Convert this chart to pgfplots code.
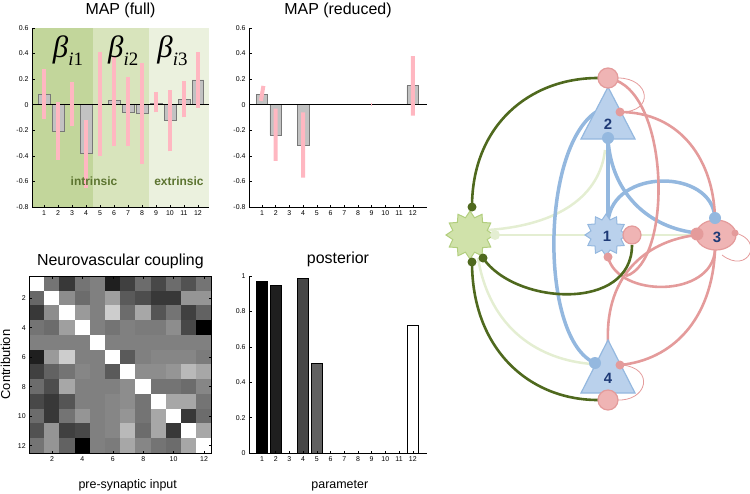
\documentclass[border=0pt]{standalone}
\usepackage{fontspec}
\setmainfont{Liberation Sans}
\newfontfamily\tms{Liberation Serif}
\usepackage{pgfplots}
\pgfplotsset{compat=1.18}
\usetikzlibrary{shapes.geometric}
\definecolor{bgA}{RGB}{194,214,155}
\definecolor{bgB}{RGB}{216,228,188}
\definecolor{bgC}{RGB}{235,241,222}
\definecolor{errpink}{RGB}{255,183,193}
\definecolor{bargray}{RGB}{194,194,194}
\definecolor{baredge}{RGB}{120,120,120}
\definecolor{txtgreen}{RGB}{92,116,48}
\definecolor{dgreen}{RGB}{79,105,30}
\definecolor{lgreen}{RGB}{228,238,210}
\definecolor{sgfill}{RGB}{208,226,170}
\definecolor{sgdraw}{RGB}{178,206,126}
\definecolor{bluel}{RGB}{148,184,223}
\definecolor{bluefill}{RGB}{186,209,236}
\definecolor{pinkl}{RGB}{228,155,155}
\definecolor{pinkfill}{RGB}{239,180,180}
\definecolor{numblue}{RGB}{30,58,118}
\newcommand{\betalab}[1]{{\tms\itshape\fontsize{31}{33}\selectfont β\raisebox{-8bp}{\fontsize{19}{21}\selectfont i\upshape #1}}}
\pgfplotsset{
  every axis title shift=0pt,
  base/.style={scale only axis,
    /pgf/number format/assume math mode=true,
    tick label style={font=\fontsize{7}{8}\selectfont},
    axis line style={black, line width=0.6bp, -},
    tick style={black, line width=0.5bp},
    major tick length=2.5bp, tick align=inside,
    title style={font=\fontsize{16}{18}\selectfont, anchor=base},
    label style={font=\fontsize{12.5}{14}\selectfont}},
}
\begin{document}
\begin{tikzpicture}
\useasboundingbox (0,0) rectangle (750bp,-494bp);

% ---------- MAP (full)
\begin{axis}[base, at={(32bp,-207bp)}, anchor=south west, width=177bp, height=179bp,
  xmin=0.14, xmax=12.79, ymin=-0.8, ymax=0.6,
  xtick={1,...,12}, ytick={-0.8,-0.6,-0.4,-0.2,0,0.2,0.4,0.6},
  yticklabel style={/pgf/number format/fixed, /pgf/number format/precision=1},
  axis x line*=bottom, axis y line*=left, axis on top,
  title={MAP (full)}, title style={at={(0.5,1.073)}}]
\addplot[fill=bgA, draw=none, forget plot] coordinates {(0.14,-0.8) (4.5,-0.8) (4.5,0.6) (0.14,0.6)} -- cycle;
\addplot[fill=bgB, draw=none, forget plot] coordinates {(4.5,-0.8) (8.5,-0.8) (8.5,0.6) (4.5,0.6)} -- cycle;
\addplot[fill=bgC, draw=none, forget plot] coordinates {(8.5,-0.8) (12.79,-0.8) (12.79,0.6) (8.5,0.6)} -- cycle;
\addplot[ybar, bar shift=0pt, bar width=0.85, fill=bargray, draw=baredge, line width=0.8bp]
  coordinates {(1,0.081) (2,-0.212) (4,-0.38) (6,0.034) (7,-0.058) (8,-0.068) (9,0.013) (10,-0.126) (11,0.042) (12,0.194)};
\addplot[black, line width=0.8bp] coordinates {(0.14,0) (12.79,0)};
\addplot[errpink, line width=4bp, unbounded coords=jump] table[row sep=\\] {
x y\\ 1 -0.11\\ 1 0.28\\ nan nan\\
2 -0.43\\ 2 0.024\\ nan nan\\
3 -0.17\\ 3 0.18\\ nan nan\\
4 -0.65\\ 4 -0.12\\ nan nan\\
5 -0.40\\ 5 0.416\\ nan nan\\
6 -0.32\\ 6 0.377\\ nan nan\\
7 -0.32\\ 7 0.22\\ nan nan\\
8 -0.46\\ 8 0.325\\ nan nan\\
9 -0.06\\ 9 0.097\\ nan nan\\
10 -0.364\\ 10 0.115\\ nan nan\\
11 -0.10\\ 11 0.186\\ nan nan\\
12 -0.024\\ 12 0.41\\
};
\node[anchor=base] at (axis cs:2.71,0.373) {\betalab{1}};
\node[anchor=base] at (axis cs:6.66,0.373) {\betalab{2}};
\node[anchor=base] at (axis cs:10.18,0.373) {\betalab{3}};
\node[font=\bfseries\fontsize{12}{13}\selectfont, text=txtgreen] at (axis cs:4.57,-0.6) {intrinsic};
\node[font=\bfseries\fontsize{12}{13}\selectfont, text=txtgreen] at (axis cs:10.64,-0.6) {extrinsic};
\end{axis}

% ---------- MAP (reduced)
\begin{axis}[base, at={(249bp,-207bp)}, anchor=south west, width=178bp, height=179bp,
  xmin=0.05, xmax=13.04, ymin=-0.8, ymax=0.6,
  xtick={1,...,12}, ytick={-0.8,-0.6,-0.4,-0.2,0,0.2,0.4,0.6},
  yticklabel style={/pgf/number format/fixed, /pgf/number format/precision=1},
  axis x line*=bottom, axis y line*=left, axis on top,
  title={MAP (reduced)}, title style={at={(0.5,1.073)}}]
\addplot[ybar, bar shift=0pt, bar width=0.85, fill=bargray, draw=baredge, line width=0.8bp]
  coordinates {(1,0.081) (2,-0.238) (4,-0.317) (12,0.148)};
\addplot[black, line width=0.8bp] coordinates {(0.05,0) (13.04,0)};
\addplot[errpink, line width=4bp, unbounded coords=jump] table[row sep=\\] {
x y\\ 0.92 0.03\\ 1.1 0.147\\ nan nan\\
2 -0.44\\ 2 -0.03\\ nan nan\\
4 -0.57\\ 4 -0.06\\ nan nan\\
12 -0.086\\ 12 0.38\\
};
\addplot[errpink, line width=1.5bp] coordinates {(9,-0.012) (9,0.012)};
\end{axis}

% ---------- Neurovascular coupling
\begin{axis}[base, at={(29.2bp,-453bp)}, anchor=south west, width=182.4bp, height=177bp,
  xmin=0.5, xmax=12.5, ymin=0.5, ymax=12.5, y dir=reverse,
  xtick={2,4,...,12}, ytick={2,4,...,12}, tick align=inside,
  colormap/blackwhite, point meta min=0, point meta max=1,
  title={Neurovascular coupling}, title style={at={(0.5,1.062)}},
  xlabel={pre-synaptic input}, xlabel style={at={(0.54,-0.198)}, anchor=base},
  ylabel={Contribution}, ylabel style={at={(-0.13,0.5)}, anchor=center, font=\fontsize{13}{14}\selectfont},
  axis on top]
\addplot[matrix plot*, mesh/cols=12, point meta=explicit] coordinates {
(1,1)[1] (2,1)[.45] (3,1)[.22] (4,1)[.45] (5,1)[.5] (6,1)[.12] (7,1)[.25] (8,1)[.42] (9,1)[.28] (10,1)[.42] (11,1)[.32] (12,1)[.45]
(1,2)[.4] (2,2)[1] (3,2)[.55] (4,2)[.42] (5,2)[.5] (6,2)[.62] (7,2)[.35] (8,2)[.3] (9,2)[.22] (10,2)[.22] (11,2)[.58] (12,2)[.58]
(1,3)[.22] (2,3)[.55] (3,3)[1] (4,3)[.6] (5,3)[.5] (6,3)[.8] (7,3)[.42] (8,3)[.65] (9,3)[.33] (10,3)[.45] (11,3)[.25] (12,3)[.38]
(1,4)[.45] (2,4)[.42] (3,4)[.62] (4,4)[1] (5,4)[.5] (6,4)[.45] (7,4)[.5] (8,4)[.48] (9,4)[.48] (10,4)[.55] (11,4)[.28] (12,4)[0]
(1,5)[.5] (2,5)[.5] (3,5)[.5] (4,5)[.5] (5,5)[1] (6,5)[.5] (7,5)[.5] (8,5)[.5] (9,5)[.5] (10,5)[.5] (11,5)[.5] (12,5)[.5]
(1,6)[.12] (2,6)[.6] (3,6)[.8] (4,6)[.5] (5,6)[.5] (6,6)[1] (7,6)[.35] (8,6)[.5] (9,6)[.52] (10,6)[.52] (11,6)[.52] (12,6)[.48]
(1,7)[.25] (2,7)[.38] (3,7)[.45] (4,7)[.52] (5,7)[.5] (6,7)[.35] (7,7)[1] (8,7)[.55] (9,7)[.55] (10,7)[.58] (11,7)[.72] (12,7)[.65]
(1,8)[.42] (2,8)[.3] (3,8)[.65] (4,8)[.5] (5,8)[.5] (6,8)[.5] (7,8)[.55] (8,8)[1] (9,8)[.45] (10,8)[.45] (11,8)[.42] (12,8)[.52]
(1,9)[.28] (2,9)[.22] (3,9)[.33] (4,9)[.5] (5,9)[.5] (6,9)[.52] (7,9)[.55] (8,9)[.45] (9,9)[1] (10,9)[.65] (11,9)[.65] (12,9)[.45]
(1,10)[.42] (2,10)[.22] (3,10)[.45] (4,10)[.58] (5,10)[.5] (6,10)[.52] (7,10)[.58] (8,10)[.45] (9,10)[.65] (10,10)[1] (11,10)[.22] (12,10)[.42]
(1,11)[.32] (2,11)[.58] (3,11)[.25] (4,11)[.28] (5,11)[.5] (6,11)[.52] (7,11)[.72] (8,11)[.42] (9,11)[.65] (10,11)[.22] (11,11)[1] (12,11)[.65]
(1,12)[.45] (2,12)[.58] (3,12)[.38] (4,12)[0] (5,12)[.5] (6,12)[.48] (7,12)[.65] (8,12)[.52] (9,12)[.45] (10,12)[.42] (11,12)[.65] (12,12)[1]
};
\end{axis}

% ---------- posterior
\begin{axis}[base, at={(249bp,-453bp)}, anchor=south west, width=178bp, height=177bp,
  xmin=0.05, xmax=13.04, ymin=0, ymax=1,
  xtick={1,...,12}, ytick={0,0.2,0.4,0.6,0.8,1},
  axis x line*=bottom, axis y line*=left, axis on top,
  title={posterior}, title style={at={(0.5,1.068)}},
  xlabel={parameter}, xlabel style={at={(0.51,-0.198)}, anchor=base}]
\addplot[ybar, bar shift=0pt, bar width=0.8, fill=black, draw=black, line width=0.8bp] coordinates {(1,0.972)};
\addplot[ybar, bar shift=0pt, bar width=0.8, fill=black!88, draw=black, line width=0.8bp] coordinates {(2,0.949)};
\addplot[ybar, bar shift=0pt, bar width=0.8, fill=black!72, draw=black, line width=0.8bp] coordinates {(4,0.987)};
\addplot[ybar, bar shift=0pt, bar width=0.8, fill=black!62, draw=black, line width=0.8bp] coordinates {(5,0.504)};
\addplot[ybar, bar shift=0pt, bar width=0.8, fill=white, draw=black, line width=0.8bp] coordinates {(12,0.719)};
\end{axis}

% ---------- schematic
\begin{axis}[at={(420bp,-494bp)}, anchor=south west, width=330bp, height=494bp, scale only axis,
  xmin=420, xmax=750, ymin=0, ymax=494, y dir=reverse, axis lines=none, clip=false]
\addplot[draw=none, forget plot] coordinates {(420,0)};
% light green
\draw[lgreen, line width=2.5bp] (478,235) -- (697,235);
\draw[lgreen, line width=2.5bp] (488,230) .. controls (560,225) and (600,195) .. (605,150);
\draw[lgreen, line width=2.5bp] (478,258) .. controls (490,330) and (540,360) .. (592,364);
% blue
\draw[bluel, line width=3.5bp] (608,138) -- (608,220);
\draw[bluel, line width=3.5bp] (608,140) .. controls (612,195) and (650,228) .. (697,233);
\draw[bluel, line width=3.5bp] (608,222) .. controls (612,168) and (712,168) .. (715,218);
\draw[bluel, line width=3.5bp] (596,112) .. controls (540,150) and (540,340) .. (595,363);
% pink
\draw[pinkl, line width=2.6bp] (615,80) .. controls (670,100) and (672,262) .. (626,276);
\draw[pinkl, line width=2.6bp] (620,112) .. controls (680,112) and (715,160) .. (715,222);
\draw[pinkl, line width=2.6bp] (608,257) .. controls (618,298) and (712,298) .. (715,250);
\draw[pinkl, line width=2.6bp] (608,342) .. controls (605,272) and (650,240) .. (697,235);
\draw[pinkl, line width=2.6bp] (715,250) .. controls (712,320) and (672,360) .. (620,365);
\draw[pinkl, line width=0.8bp] (618,78) .. controls (650,78) and (655,112) .. (621,112);
\draw[pinkl, line width=0.8bp] (735,233) .. controls (765,240) and (748,275) .. (722,255);
\draw[pinkl, line width=0.8bp] (622,365) .. controls (655,368) and (648,402) .. (616,400);
% dark green
\draw[dgreen, line width=2.6bp] (472,207) .. controls (472,125) and (530,78) .. (598,78);
\draw[dgreen, line width=2.6bp] (472,262) .. controls (472,350) and (530,400) .. (598,400);
\draw[dgreen, line width=2.6bp] (483,258) .. controls (515,305) and (632,312) .. (632,245);
% nodes
\node[star, star points=12, star point ratio=1.35, minimum size=48bp, inner sep=0pt, fill=sgfill, draw=sgdraw, line width=1bp] at (470,235) {};
\fill[lgreen] (495,235) circle[radius=5bp];
\node[star, star points=12, star point ratio=1.35, minimum size=42bp, inner sep=0pt, fill=bluefill, draw=bluel, line width=1bp] at (606,235) {};
\filldraw[fill=bluefill, draw=bluel, line width=1.2bp] (608,87) -- (635,139) -- (581,139) -- cycle;
\filldraw[fill=bluefill, draw=bluel, line width=1.2bp] (608,340) -- (635,393) -- (581,393) -- cycle;
\filldraw[fill=pinkfill, draw=pinkl, line width=1.2bp] (716,235) ellipse [x radius=20bp, y radius=15bp];
\filldraw[fill=pinkfill, draw=pinkl, line width=1.2bp] (608,78) circle[radius=10bp];
\filldraw[fill=pinkfill, draw=pinkl, line width=1.2bp] (608,400) circle[radius=10bp];
\filldraw[fill=pinkfill, draw=pinkl, line width=1.2bp] (632,235) circle[radius=9bp];
% dots
\fill[bluel] (608,138) circle[radius=6bp];
\fill[bluel] (715,218) circle[radius=6bp];
\fill[bluel] (595,363) circle[radius=6bp];
\fill[pinkl] (620,112) circle[radius=4.5bp];
\fill[pinkl] (608,257) circle[radius=4.5bp];
\fill[pinkl] (620,365) circle[radius=4.5bp];
\fill[pinkl] (697,234) circle[radius=6.5bp];
\fill[pinkl] (735,233) circle[radius=3.5bp];
\fill[dgreen] (472,207) circle[radius=4.5bp];
\fill[dgreen] (472,262) circle[radius=4.5bp];
\fill[dgreen] (483,258) circle[radius=4.5bp];
% labels
\node[font=\bfseries\fontsize{15}{15}\selectfont, text=numblue] at (607,236) {1};
\node[font=\bfseries\fontsize{15}{15}\selectfont, text=numblue] at (608,124) {2};
\node[font=\bfseries\fontsize{15}{15}\selectfont, text=numblue] at (717,237) {3};
\node[font=\bfseries\fontsize{15}{15}\selectfont, text=numblue] at (608,378) {4};
\end{axis}
\end{tikzpicture}
\end{document}
